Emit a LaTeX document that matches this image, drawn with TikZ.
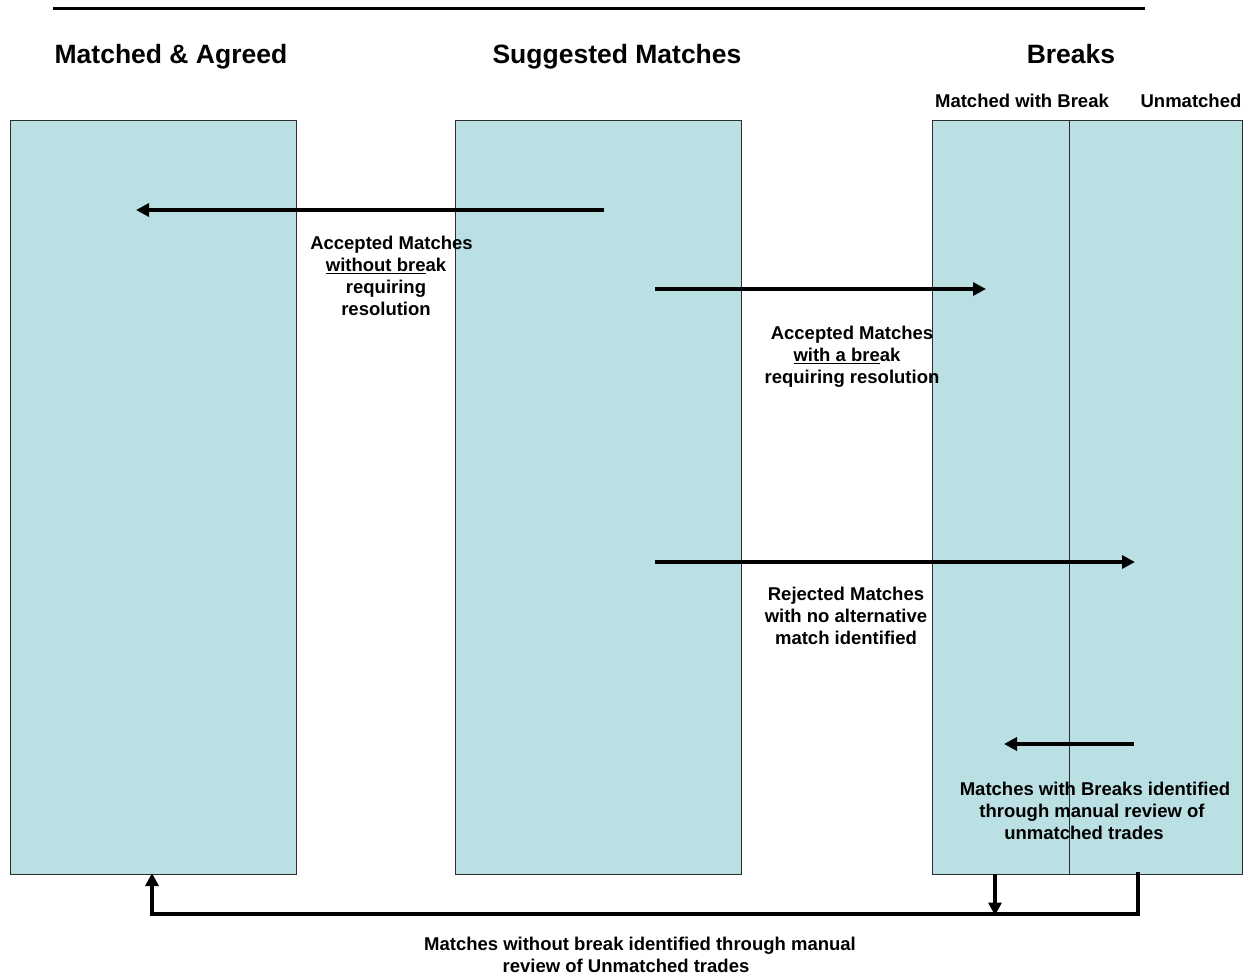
\documentclass[tikz,border=0pt]{standalone}
\usepackage{fontspec}
\setmainfont{Liberation Sans}
\usetikzlibrary{arrows.meta}
\definecolor{panefill}{RGB}{186,224,227}
\definecolor{paneedge}{RGB}{45,45,45}
\newcommand{\brkline}[1]{\underline{#1}}
\begin{document}
\begin{tikzpicture}[x=1pt,y=-1pt,
  pane/.style={draw=paneedge, line width=1pt, fill=panefill, inner sep=0pt, minimum height=754pt},
  flow/.style={line width=3.2pt, -{Triangle[length=13pt,width=13pt]}},
  plain/.style={line width=3.2pt},
  title/.style={font=\bfseries\fontsize{26.5}{30}\selectfont, inner sep=0pt, anchor=base},
  subtitle/.style={font=\bfseries\fontsize{18.5}{22}\selectfont, inner sep=0pt, anchor=base},
  lbl/.style={font=\bfseries\fontsize{18.5}{21.8}\selectfont, align=center, inner sep=0pt, anchor=north}]
\useasboundingbox (0,0) rectangle (1254,978);

% rule across the top
\coordinate (ruleL) at (53,8);
\coordinate (ruleR) at (1145,8);
\draw[line width=3pt] (ruleL) -- (ruleR);

% column headings
\node[title] (tMA) at (171,63) {Matched \& Agreed};
\node[title] (tSM) at (617,63) {Suggested Matches};
\node[title] (tBR) at (1071,63) {Breaks};
\node[subtitle] (tMB) at (1022,107) {Matched with Break};
\node[subtitle] (tUN) at (1191,107) {Unmatched};

% the columns
\node[pane, minimum width=286pt] (ma) at (153,497) {};
\node[pane, minimum width=286pt] (sm) at (598,497) {};
\node[pane, minimum width=137pt] (mb) at (1000.5,497) {};
\node[pane, minimum width=173pt] (un) at (1155.5,497) {};

% arrow end points
\coordinate (a1s) at (604,210);
\coordinate (a1e) at (136,210);
\coordinate (a2s) at (655,289);
\coordinate (a2e) at (986,289);
\coordinate (a3s) at (655,562);
\coordinate (a3e) at (1135,562);
\coordinate (a4s) at (1134,744);
\coordinate (a4e) at (1004,744);

\draw[flow] (a1s) -- (a1e);
\draw[flow] (a2s) -- (a2e);
\draw[flow] (a3s) -- (a3e);
\draw[flow] (a4s) -- (a4e);

% return loop along the bottom
\coordinate (bR) at (1138,874);
\coordinate (bM) at (995,874);
\coordinate (bL) at (152,873);
\draw[plain, line cap=rect] (bR) -- (1138,914) -- (152,914);
\draw[flow] (152,914) -- (bL);
\draw[flow] (bM) -- (995,915.5);

% labels
\node[lbl] (l1) at (386,236) {\kern11pt Accepted Matches\\ \brkline{without bre}ak\\ requiring\\ resolution};
\node[lbl] (l2) at (852,326) {Accepted Matches\\ \brkline{with a bre}ak\kern10pt\\ requiring resolution};
\node[lbl] (l3) at (846,587) {Rejected Matches\\ with no alternative\\ match identified};
\node[lbl] (l4) at (1095,782) {Matches with Breaks identified\\ through manual review of\kern6pt\\ unmatched trades\kern22pt};
\node[lbl] (l5) at (640,937) {Matches without break identified through manual\\ review of Unmatched trades\kern28pt};
\end{tikzpicture}
\end{document}
